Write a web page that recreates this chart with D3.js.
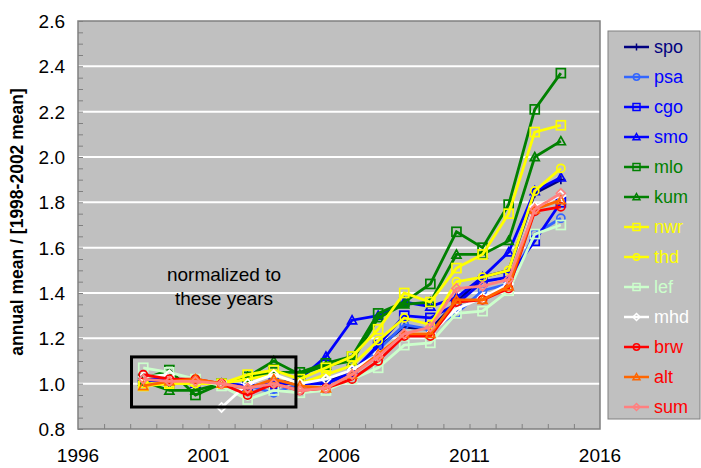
<!DOCTYPE html>
<html>
<head>
<meta charset="utf-8">
<script src="https://cdn.jsdelivr.net/npm/d3@7"></script>
<style>
  body { margin: 0; background: #fff; }
  text { font-family: "Liberation Sans", Arial, sans-serif; }
</style>
</head>
<body>
<div id="chart"></div>
<script>
// years plotted at mid-year
const years = d3.range(1998, 2015);

const spo = [1.02, 1.00, 1.00, 1.00, 0.99, 0.99, 1.01, 1.01, 1.05, 1.16, 1.25, 1.24, 1.36, 1.47, 1.50, 1.84, 1.90];
const psa = [1.02, 1.01, 1.00, 1.00, 0.99, 0.96, 1.00, 1.00, 1.04, 1.15, 1.26, 1.24, 1.31, 1.41, 1.44, 1.66, 1.73];
const cgo = [1.02, 1.00, 1.01, 1.00, 0.99, 1.00, 1.00, 1.00, 1.05, 1.17, 1.30, 1.29, 1.35, 1.45, 1.47, 1.63, 1.80];
const smo = [1.03, 1.02, 1.00, 1.00, 0.99, 1.00, 1.02, 1.12, 1.28, 1.30, 1.36, 1.34, 1.38, 1.47, 1.58, 1.85, 1.91];
const mlo = [1.02, 1.06, 0.95, 1.00, 1.03, 1.05, 1.05, 1.09, 1.12, 1.31, 1.36, 1.44, 1.67, 1.60, 1.79, 2.21, 2.37];
const kum = [1.01, 0.97, 0.97, 1.00, 1.03, 1.10, 1.04, 1.08, 1.10, 1.29, 1.35, 1.36, 1.57, 1.57, 1.63, 2.00, 2.07];
const nwr = [0.99, 1.00, 1.01, 1.00, 1.04, 1.06, 1.02, 1.07, 1.12, 1.24, 1.40, 1.36, 1.51, 1.57, 1.75, 2.11, 2.14];
const thd = [1.00, 1.00, 1.00, 1.00, 1.02, 1.04, 1.00, 1.04, 1.08, 1.19, 1.29, 1.26, 1.45, 1.47, 1.50, 1.85, 1.95];
const lef = [1.07, 1.05, 1.02, 0.99, 0.93, 0.97, 0.96, 0.97, 1.02, 1.07, 1.17, 1.18, 1.31, 1.32, 1.41, 1.66, 1.70];
const mhd = [1.03, 1.04, null, 0.895, 1.00, 1.04, 1.00, 1.02, 1.06, 1.13, 1.22, 1.22, 1.33, 1.38, 1.44, 1.78, 1.83];
const brw = [1.04, 1.02, 1.02, 1.00, 0.95, 1.00, 0.97, 0.98, 1.02, 1.10, 1.21, 1.21, 1.36, 1.37, 1.42, 1.76, 1.78];
const alt = [0.99, 1.01, 1.02, 1.00, 0.98, 1.02, 0.99, 0.98, 1.04, 1.13, 1.22, 1.22, 1.37, 1.37, 1.43, 1.77, 1.81];
const sum = [1.02, 1.01, 1.01, 1.00, 0.98, 1.00, 0.97, 0.98, 1.04, 1.12, 1.22, 1.25, 1.42, 1.43, 1.46, 1.77, 1.84];

const stations = ['spo', 'psa', 'cgo', 'smo', 'mlo', 'kum', 'nwr', 'thd', 'lef', 'mhd', 'brw', 'alt', 'sum'];
const seriesValues = [spo, psa, cgo, smo, mlo, kum, nwr, thd, lef, mhd, brw, alt, sum];
const lineColors = ['#000080', '#3366ff', '#0000ff', '#0000ff', '#008000', '#008000', '#ffff00', '#ffff00', '#ccffcc', '#ffffff', '#ff0000', '#ff6600', '#ff8080'];
const textColors = ['#000080', '#0000ff', '#0000ff', '#0000ff', '#008000', '#008000', '#ffff00', '#ffff00', '#ccffcc', '#ffffff', '#ff0000', '#ff0000', '#ff0000'];
const markers = ['plus', 'circle', 'square', 'triangle', 'square', 'triangle', 'square', 'circle', 'square', 'diamond', 'circle', 'triangle', 'diamond'];

const yTicks = [0.8, 1.0, 1.2, 1.4, 1.6, 1.8, 2.0, 2.2, 2.4, 2.6];
const xTicks = [1996, 2001, 2006, 2011, 2016];

const W = 701, H = 468;
const plot = { left: 78, top: 21, right: 600, bottom: 429 };

const svg = d3.select('#chart').append('svg')
  .attr('width', W)
  .attr('height', H);

const x = d3.scaleLinear().domain([1996, 2016]).range([plot.left, plot.right]);
const y = d3.scaleLinear().domain([0.8, 2.6]).range([plot.bottom, plot.top]);

// plot background
svg.append('rect')
  .attr('x', plot.left).attr('y', plot.top)
  .attr('width', plot.right - plot.left).attr('height', plot.bottom - plot.top)
  .attr('fill', '#c0c0c0');

// gridlines
svg.append('g').selectAll('line')
  .data(yTicks.slice(1, -1))
  .enter().append('line')
  .attr('x1', plot.left).attr('x2', plot.right)
  .attr('y1', d => y(d)).attr('y2', d => y(d))
  .attr('stroke', '#fff').attr('stroke-width', 2);

// border
svg.append('rect')
  .attr('x', plot.left).attr('y', plot.top)
  .attr('width', plot.right - plot.left).attr('height', plot.bottom - plot.top)
  .attr('fill', 'none').attr('stroke', '#808080').attr('stroke-width', 1.5);

// y axis: inner minor ticks, labels on the left
const yAxis = d3.axisRight(y)
  .ticks(36)
  .tickSize(5)
  .tickFormat('');
svg.append('g')
  .attr('transform', `translate(${plot.left},0)`)
  .call(yAxis)
  .call(g => g.select('.domain').remove())
  .call(g => g.selectAll('line').attr('stroke', '#808080'));

svg.append('g').selectAll('text')
  .data(yTicks)
  .enter().append('text')
  .attr('x', 65)
  .attr('y', d => y(d) + 7)
  .attr('text-anchor', 'end')
  .attr('font-size', 19)
  .attr('fill', '#000')
  .text(d => d.toFixed(1));

// x axis: yearly inner ticks
const xAxis = d3.axisTop(x)
  .tickValues(d3.range(1997, 2016))
  .tickSize(5)
  .tickFormat('');
svg.append('g')
  .attr('transform', `translate(0,${plot.bottom})`)
  .call(xAxis)
  .call(g => g.select('.domain').remove())
  .call(g => g.selectAll('line').attr('stroke', '#808080'));

svg.append('g').selectAll('text')
  .data(xTicks)
  .enter().append('text')
  .attr('x', d => x(d))
  .attr('y', 462)
  .attr('text-anchor', 'middle')
  .attr('font-size', 19)
  .attr('fill', '#000')
  .text(d => d);

// y title
svg.append('text')
  .attr('transform', `translate(23,${(plot.top + plot.bottom) / 2 - 3}) rotate(-90)`)
  .attr('text-anchor', 'middle')
  .attr('font-size', 17.5)
  .attr('font-weight', 'bold')
  .text('annual mean / [1998-2002 mean]');

function drawMarker(g, type, color, s, sw) {
  let el;
  if (type === 'plus') {
    el = g.append('path').attr('d', `M0,${-s}V${s}M${-s},0H${s}`);
  } else if (type === 'circle') {
    el = g.append('circle').attr('r', s * 0.9);
  } else if (type === 'square') {
    el = g.append('rect').attr('x', -s).attr('y', -s).attr('width', 2 * s).attr('height', 2 * s);
  } else if (type === 'triangle') {
    el = g.append('path').attr('d', `M0,${-s}L${s},${s * 0.8}L${-s},${s * 0.8}Z`);
  } else {
    el = g.append('path').attr('d', `M0,${-s}L${s},0L0,${s}L${-s},0Z`);
  }
  el.attr('stroke', color).attr('stroke-width', sw).attr('fill', 'none');
}

const line = d3.line()
  .defined(d => d.v !== null)
  .x(d => x(d.year + 0.5))
  .y(d => y(d.v));

const seriesG = svg.append('g');
stations.forEach((name, i) => {
  const pts = years.map((yr, j) => ({ year: yr, v: seriesValues[i][j] }));
  const g = seriesG.append('g');
  g.append('path')
    .datum(pts)
    .attr('d', line)
    .attr('fill', 'none')
    .attr('stroke', lineColors[i])
    .attr('stroke-width', 2.8);
  pts.filter(d => d.v !== null).forEach(d => {
    const m = g.append('g').attr('transform', `translate(${x(d.year + 0.5)},${y(d.v)})`);
    drawMarker(m, markers[i], lineColors[i], 4.5, 1.7);
  });
});

// normalization box
svg.append('rect')
  .attr('x', x(1998.05)).attr('y', y(1.118))
  .attr('width', x(2004.35) - x(1998.05))
  .attr('height', y(0.897) - y(1.118))
  .attr('fill', 'none')
  .attr('stroke', '#000')
  .attr('stroke-width', 3);

svg.append('text')
  .attr('x', 224).attr('y', 281)
  .attr('text-anchor', 'middle')
  .attr('font-size', 19)
  .text('normalized to');
svg.append('text')
  .attr('x', 224).attr('y', 305)
  .attr('text-anchor', 'middle')
  .attr('font-size', 19)
  .text('these years');

// legend
const legend = svg.append('g');
legend.append('rect')
  .attr('x', 608).attr('y', 31)
  .attr('width', 92).attr('height', 388)
  .attr('fill', '#c0c0c0')
  .attr('stroke', '#808080')
  .attr('stroke-width', 1);

stations.forEach((name, i) => {
  const ly = 47 + i * 30;
  const item = legend.append('g');
  item.append('line')
    .attr('x1', 624).attr('x2', 649)
    .attr('y1', ly).attr('y2', ly)
    .attr('stroke', lineColors[i]).attr('stroke-width', 2.5);
  const m = item.append('g').attr('transform', `translate(636.5,${ly})`);
  drawMarker(m, markers[i], lineColors[i], 3.5, 1.5);
  item.append('text')
    .attr('x', 654).attr('y', ly + 6)
    .attr('font-size', 18)
    .attr('fill', textColors[i])
    .text(name);
});
</script>
</body>
</html>
